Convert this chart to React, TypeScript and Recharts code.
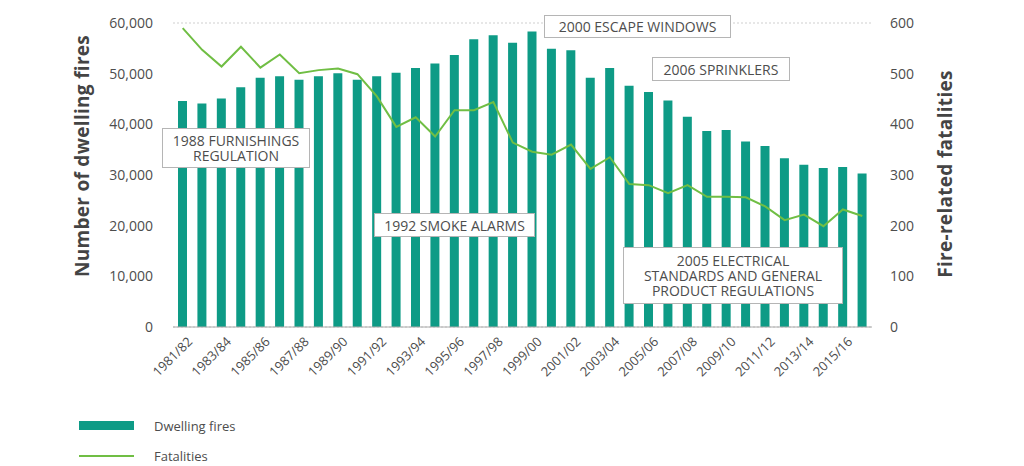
import { ComposedChart, Bar, Line, XAxis, YAxis, CartesianGrid } from 'recharts';

const categories = [
  '1981/82', '1982/83', '1983/84', '1984/85', '1985/86', '1986/87', '1987/88', '1988/89', '1989/90',
  '1990/91', '1991/92', '1992/93', '1993/94', '1994/95', '1995/96', '1996/97', '1997/98', '1998/99',
  '1999/00', '2000/01', '2001/02', '2002/03', '2003/04', '2004/05', '2005/06', '2006/07', '2007/08',
  '2008/09', '2009/10', '2010/11', '2011/12', '2012/13', '2013/14', '2014/15', '2015/16', '2016/17',
];

const dwellingFires = [
  44600, 44100, 45100, 47300, 49200, 49500, 48800, 49500, 50100,
  48800, 49500, 50200, 51100, 52000, 53700, 56800, 57600, 56100,
  58300, 54900, 54600, 49200, 51100, 47600, 46400, 44700, 41500,
  38700, 38900, 36600, 35700, 33300, 32000, 31400, 31600, 30300,
];

const fatalities = [
  590, 547, 514, 553, 512, 538, 501, 507, 510,
  499, 455, 395, 414, 376, 428, 428, 444, 364,
  346, 340, 360, 312, 335, 282, 280, 264, 280,
  257, 257, 256, 238, 211, 222, 199, 232, 219,
];

const leftTicks = [0, 10000, 20000, 30000, 40000, 50000, 60000];
const rightTicks = [0, 100, 200, 300, 400, 500, 600];

const data = categories.map((year, i) => ({
  year,
  fires: dwellingFires[i],
  deaths: fatalities[i],
}));

const FONT = '"Open Sans", "Noto Sans", sans-serif';
const TEAL = '#0e9b86';
const GREEN = '#70be44';
const TEXT = '#4d4d4d';

function XTick({ x, y, payload }: any) {
  return (
    <g transform={`translate(${x + 4},${y + 9}) rotate(-45)`}>
      <text x={0} y={0} dy="0.7em" textAnchor="end" fontSize={13} fill={TEXT} fontFamily={FONT}>
        {payload.value}
      </text>
    </g>
  );
}

const boxStyle: React.CSSProperties = {
  position: 'absolute',
  boxSizing: 'border-box',
  border: '1px solid #b5b5b5',
  background: '#fff',
  color: TEXT,
  fontFamily: FONT,
  fontSize: 14,
  lineHeight: '15px',
  textAlign: 'center',
  display: 'flex',
  flexDirection: 'column',
  justifyContent: 'center',
  alignItems: 'center',
  whiteSpace: 'nowrap',
};

function Note({ left, top, width, height, lines }: { left: number; top: number; width: number; height: number; lines: string[] }) {
  return (
    <div style={{ ...boxStyle, left, top, width, height }}>
      {lines.map((l) => <div key={l}>{l}</div>)}
    </div>
  );
}

const axisTitle: React.CSSProperties = {
  position: 'absolute',
  transform: 'translate(-50%, -50%) rotate(-90deg)',
  whiteSpace: 'nowrap',
  fontFamily: FONT,
  fontWeight: 700,
  fontSize: 19,
  letterSpacing: 0.3,
  color: '#444',
};

export default function App() {
  return (
    <div style={{ position: 'fixed', left: 0, top: 0, width: 1024, height: 466, background: '#fff' }}>
      <ComposedChart
        width={1024}
        height={466}
        data={data}
        margin={{ top: 23, right: 0, bottom: 79, left: 0 }}
        barSize={9}
      >
        <CartesianGrid vertical={false} stroke="#cfcfcf" strokeDasharray="2 2" />
        <XAxis
          dataKey="year"
          interval={1}
          tickLine={false}
          tickSize={0}
          tickMargin={0}
          height={60}
          axisLine={{ stroke: '#aaa' }}
          tick={<XTick />}
        />
        <YAxis
          yAxisId="left"
          width={173}
          domain={[0, 60000]}
          ticks={leftTicks}
          axisLine={false}
          tickLine={false}
          tickSize={0}
          tickMargin={20}
          tickFormatter={(v: number) => v.toLocaleString('en-US')}
          tick={{ fontSize: 14, fill: TEXT, fontFamily: FONT }}
        />
        <YAxis
          yAxisId="right"
          orientation="right"
          width={152}
          domain={[0, 600]}
          ticks={rightTicks}
          axisLine={false}
          tickLine={false}
          tickSize={0}
          tickMargin={18}
          tick={{ fontSize: 14, fill: TEXT, fontFamily: FONT, textAnchor: 'start' }}
        />
        <Bar yAxisId="left" dataKey="fires" fill={TEAL} isAnimationActive={false} />
        <Line
          yAxisId="right"
          dataKey="deaths"
          type="linear"
          stroke={GREEN}
          strokeWidth={2}
          dot={false}
          activeDot={false}
          isAnimationActive={false}
        />
      </ComposedChart>

      <div style={{ ...axisTitle, left: 82, top: 156 }}>Number of dwelling fires</div>
      <div style={{ ...axisTitle, left: 945, top: 174 }}>Fire-related fatalities</div>

      <Note left={162} top={128} width={148} height={40} lines={['1988 FURNISHINGS', 'REGULATION']} />
      <Note left={374} top={213} width={161} height={24} lines={['1992 SMOKE ALARMS']} />
      <Note left={544} top={15} width={187} height={23} lines={['2000 ESCAPE WINDOWS']} />
      <Note left={652} top={57} width={138} height={24} lines={['2006 SPRINKLERS']} />
      <Note
        left={623}
        top={247}
        width={220}
        height={57}
        lines={['2005 ELECTRICAL', 'STANDARDS AND GENERAL', 'PRODUCT REGULATIONS']}
      />

      <div style={{ position: 'absolute', left: 79, top: 421, width: 55, height: 9, background: TEAL }} />
      <div style={{ position: 'absolute', left: 154, top: 417, fontFamily: FONT, fontSize: 13, color: TEXT, lineHeight: '18px' }}>
        Dwelling fires
      </div>
      <div style={{ position: 'absolute', left: 79, top: 455, width: 55, height: 2, background: GREEN }} />
      <div style={{ position: 'absolute', left: 154, top: 447, fontFamily: FONT, fontSize: 13, color: TEXT, lineHeight: '18px' }}>
        Fatalities
      </div>
    </div>
  );
}
